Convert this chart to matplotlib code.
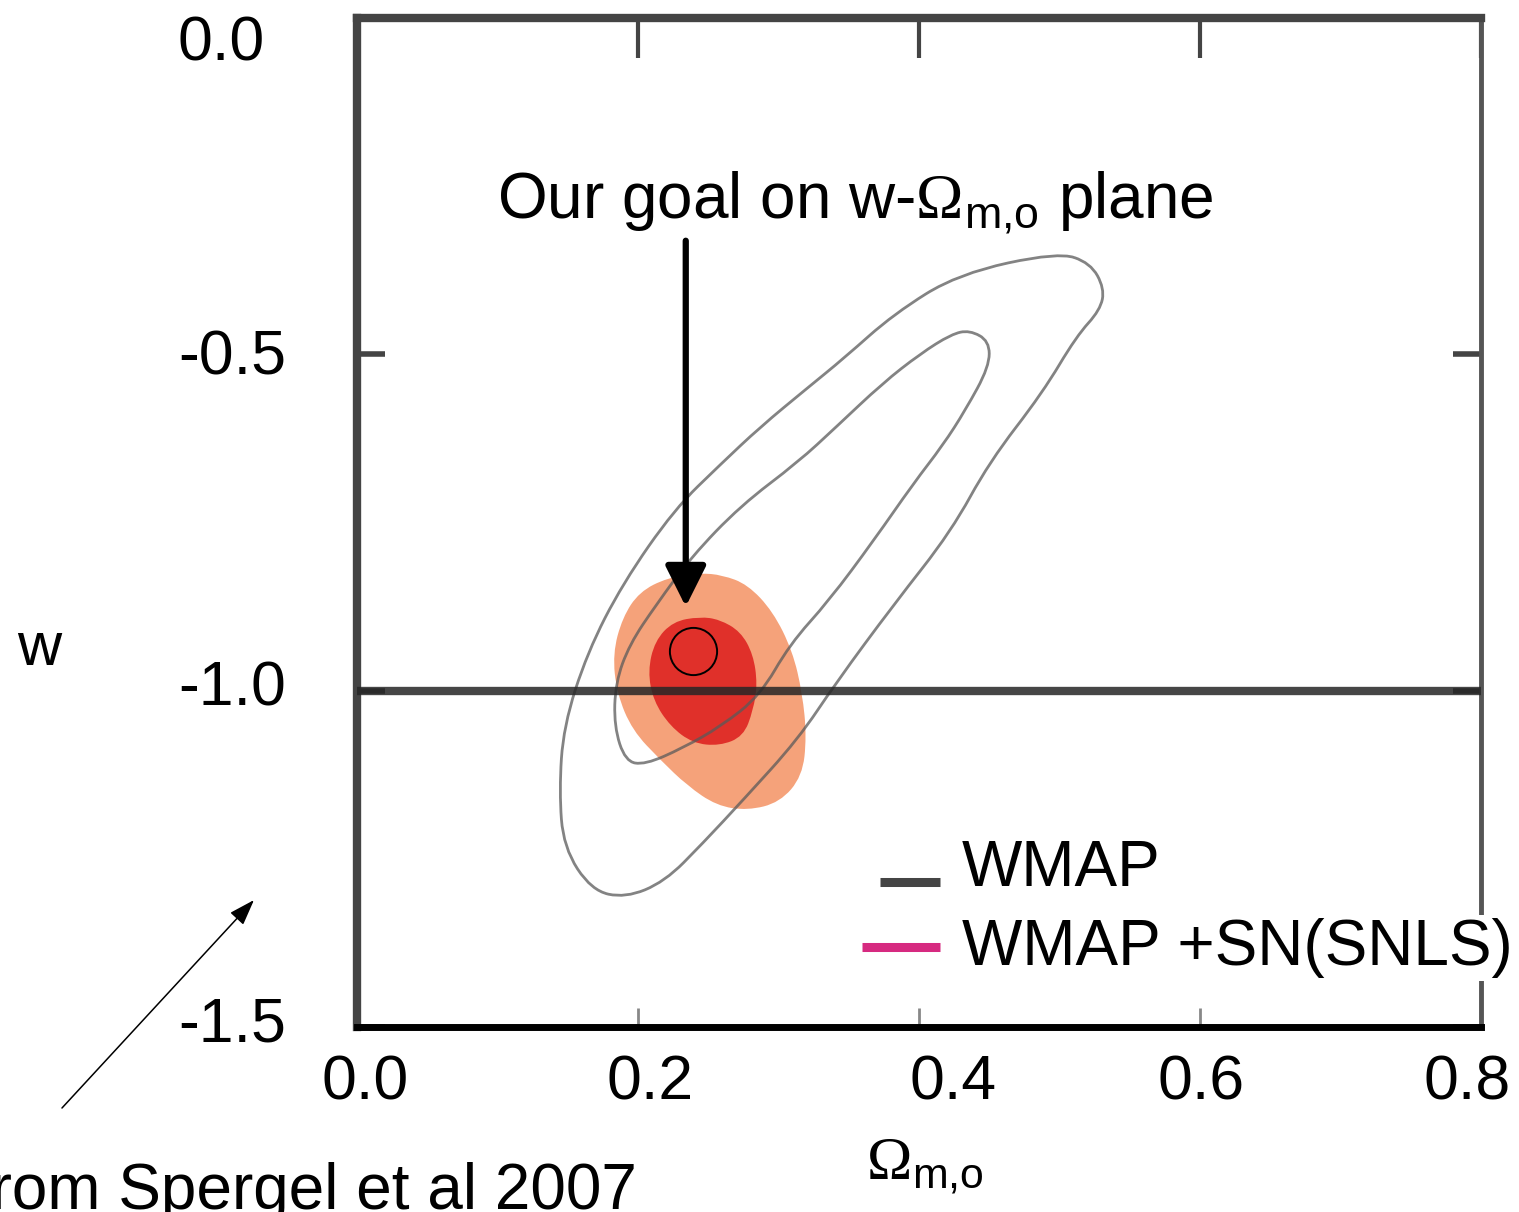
import numpy as np
import matplotlib
matplotlib.use("Agg")
import matplotlib.pyplot as plt
from matplotlib.path import Path
from matplotlib.patches import PathPatch
from matplotlib.transforms import blended_transform_factory, ScaledTranslation

plt.rcParams['font.family'] = ['Liberation Sans', 'DejaVu Sans']
plt.rcParams['mathtext.fontset'] = 'custom'
plt.rcParams['mathtext.rm'] = 'Liberation Serif'
plt.rcParams['mathtext.sf'] = 'Liberation Sans'

# --- data (Omega_m, w) ---
# WMAP outer (95%) contour
wmap95_om = [0.499, 0.428, 0.382, 0.347, 0.320, 0.287, 0.259, 0.226, 0.189, 0.164,
             0.147, 0.144, 0.147, 0.167, 0.191, 0.219, 0.246, 0.275, 0.314, 0.341,
             0.382, 0.423, 0.450, 0.488, 0.512, 0.529, 0.532, 0.522]
wmap95_w = [-0.348, -0.380, -0.440, -0.505, -0.551, -0.608, -0.663, -0.730, -0.841, -0.943,
            -1.053, -1.149, -1.233, -1.297, -1.308, -1.284, -1.227, -1.162, -1.072, -0.988,
            -0.872, -0.763, -0.660, -0.557, -0.473, -0.434, -0.402, -0.364]
# WMAP inner (68%) contour
wmap68_om = [0.436, 0.423, 0.401, 0.374, 0.341, 0.314, 0.273, 0.238, 0.213, 0.194,
             0.184, 0.183, 0.191, 0.205, 0.232, 0.259, 0.287, 0.308, 0.336, 0.368,
             0.396, 0.417, 0.433, 0.450, 0.450]
wmap68_w = [-0.464, -0.470, -0.499, -0.543, -0.608, -0.660, -0.725, -0.801, -0.872, -0.931,
            -0.988, -1.053, -1.105, -1.110, -1.085, -1.053, -1.007, -0.931, -0.866, -0.776,
            -0.692, -0.635, -0.583, -0.518, -0.480]
# WMAP+SN(SNLS) 95% region
sn95_om = [0.244, 0.221, 0.201, 0.189, 0.182, 0.185, 0.196, 0.216, 0.235, 0.256,
           0.278, 0.301, 0.317, 0.320, 0.317, 0.310, 0.296, 0.278, 0.260]
sn95_w = [-0.825, -0.832, -0.853, -0.891, -0.945, -1.004, -1.059, -1.103, -1.141, -1.171,
          -1.178, -1.166, -1.127, -1.068, -1.004, -0.941, -0.882, -0.842, -0.828]
# WMAP+SN(SNLS) 68% region
sn68_om = [0.244, 0.225, 0.212, 0.207, 0.211, 0.223, 0.239, 0.258, 0.275, 0.282,
           0.285, 0.282, 0.273, 0.258]
sn68_w = [-0.890, -0.897, -0.926, -0.971, -1.015, -1.053, -1.078, -1.082, -1.068, -1.029,
          -0.990, -0.946, -0.912, -0.894]

goal_om, goal_w = 0.239, -0.941
w_lambda = -1.0

xticks = [0.0, 0.2, 0.4, 0.6, 0.8]
xticklabels = ['0.0', '0.2', '0.4', '0.6', '0.8']
yticks = [0.0, -0.5, -1.0, -1.5]
yticklabels = ['0.0', '-0.5', '-1.0', '-1.5']
legend_labels = ['WMAP', 'WMAP +SN(SNLS)']

# small pixel nudges of tick labels, as in the original slide
xlabel_nudge = [8, 12, 34, 1, -14]
ylabel_nudge = [-42, -20, -15, -14]


def smooth_closed(xs, ys):
    pts = np.column_stack([xs, ys])
    mids = (pts + np.roll(pts, -1, axis=0)) / 2
    verts = [mids[-1]]
    codes = [Path.MOVETO]
    for p, m in zip(pts, mids):
        verts += [p, m]
        codes += [Path.CURVE3, Path.CURVE3]
    return Path(verts, codes)


fig = plt.figure(figsize=(15.19, 12.12), dpi=100)
ax = fig.add_axes([0.235, 0.1526, 0.740, 0.8325])
ax.set_xlim(0, 0.8)
ax.set_ylim(-1.486, 0)

# filled SN regions
ax.add_patch(PathPatch(smooth_closed(sn95_om, sn95_w), fc='#f5a27a', ec='none', zorder=2))
ax.add_patch(PathPatch(smooth_closed(sn68_om, sn68_w), fc='#e0302a', ec='none', zorder=2.1))

# WMAP contours
for xs, ys in [(wmap95_om, wmap95_w), (wmap68_om, wmap68_w)]:
    ax.add_patch(PathPatch(smooth_closed(xs, ys), fc='none', ec='#5a5a5a',
                           lw=2.0, alpha=0.75, zorder=3))

ax.axhline(w_lambda, color='#262626', lw=6, alpha=0.85, zorder=3.5)

ax.plot([goal_om], [goal_w], 'o', ms=34, mfc='none', mec='black', mew=1.4, zorder=4)

ax.annotate('', xy=(0.234, -0.875), xytext=(0.234, -0.331),
            arrowprops=dict(arrowstyle='-|>,head_length=2.5,head_width=1.25',
                            mutation_scale=10, lw=4.5, color='black',
                            shrinkA=0, shrinkB=0), zorder=5)

# spines and ticks
for side in ['left', 'top']:
    ax.spines[side].set_linewidth(6)
    ax.spines[side].set_color('#444444')
ax.spines['right'].set_linewidth(3.5)
ax.spines['right'].set_color('#555555')
ax.spines['bottom'].set_linewidth(5)
ax.spines['bottom'].set_color('black')

ax.set_xticks(xticks)
ax.set_xticklabels([])
ax.set_yticks(yticks)
ax.set_yticklabels([])
ax.tick_params(axis='x', direction='in', bottom=True, top=False, length=14, width=2,
               color='#888888')
ax.tick_params(axis='y', direction='in', left=True, right=True, length=20, width=4,
               color='#444444')

top = ax.secondary_xaxis('top')
top.set_xticks(xticks)
top.tick_params(direction='in', length=29, width=3, color='#444444', labeltop=False)
top.spines['top'].set_visible(False)

# tick labels
trx = blended_transform_factory(ax.transData, ax.transAxes)
for v, lab, dx in zip(xticks, xticklabels, xlabel_nudge):
    ax.text(v, -0.0723, lab, ha='center', va='baseline', fontsize=45, clip_on=False,
            transform=trx + ScaledTranslation(dx / 100, 0, fig.dpi_scale_trans))
try_ = blended_transform_factory(ax.transAxes, ax.transData)
for v, lab, dy in zip(yticks, yticklabels, ylabel_nudge):
    ax.text(-0.1593, v, lab, ha='left', va='baseline', fontsize=45, clip_on=False,
            transform=try_ + ScaledTranslation(0, dy / 100, fig.dpi_scale_trans))

# legend drawn by hand
ax.plot([0.465, 0.519], [0.1437, 0.1437], transform=ax.transAxes, color='#444444',
        lw=6.5, solid_capstyle='butt', zorder=5)
ax.plot([0.449, 0.519], [0.0793, 0.0793], transform=ax.transAxes, color='#d62a80',
        lw=6.5, solid_capstyle='butt', zorder=5)
ax.text(0.538, 0.1566, legend_labels[0], transform=ax.transAxes, ha='left', va='center',
        fontsize=46, zorder=6, bbox=dict(fc='white', ec='none', pad=2))
ax.text(0.538, 0.0783, legend_labels[1], transform=ax.transAxes, ha='left', va='center',
        fontsize=46, zorder=6, clip_on=False, bbox=dict(fc='white', ec='none', pad=2))

# annotations
ax.text(0.1246, 0.8018, r'Our goal on w-$\Omega_{\mathsf{m{,}o}}$ plane',
        transform=ax.transAxes, ha='left', va='baseline', fontsize=46, zorder=6)

fig.text(0.0257, 0.4513, 'w', ha='center', va='baseline', fontsize=44)
fig.text(0.609, 0.0264, r'$\Omega_{\mathsf{m{,}o}}$', ha='center', va='baseline',
         fontsize=44)
fig.text(0.4194, 0.0025, 'from Spergel et al 2007', ha='right', va='baseline', fontsize=46)

fig.add_artist(plt.Annotation('', xy=(0.1672, 0.2574), xytext=(0.0408, 0.0858),
                              xycoords='figure fraction', textcoords='figure fraction',
                              arrowprops=dict(arrowstyle='-|>,head_length=1.6,head_width=0.55',
                                              mutation_scale=10, lw=1.1, color='black',
                                              shrinkA=0, shrinkB=0)))

fig.savefig('out.png', dpi=100)
